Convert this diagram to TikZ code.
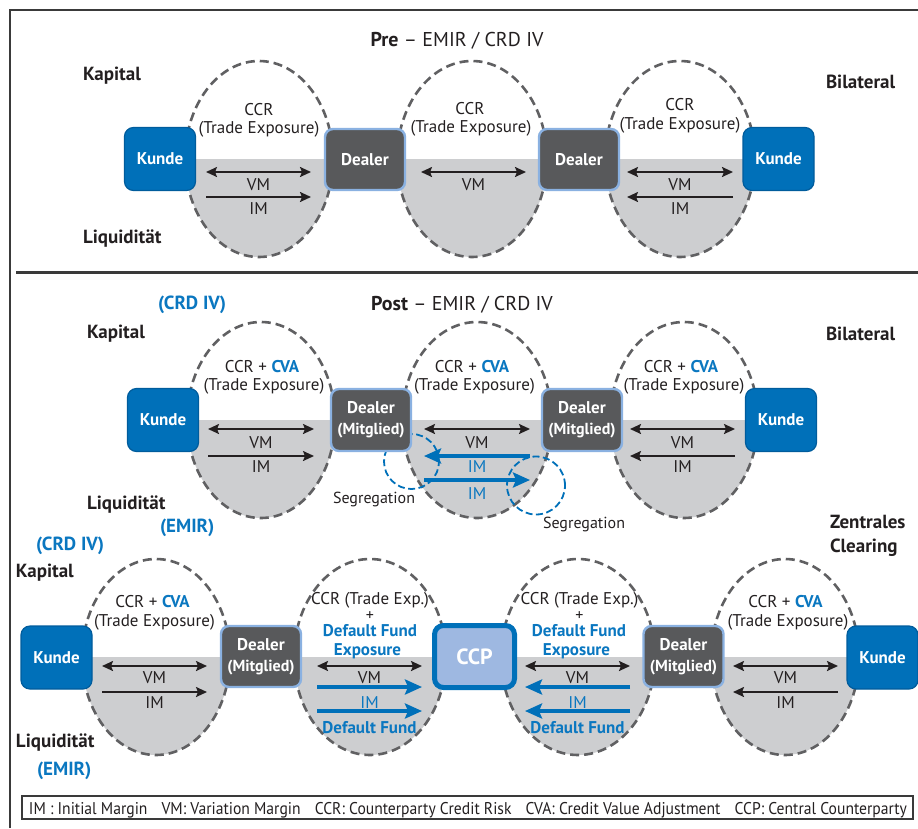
\documentclass[tikz,border=0pt]{standalone}
\usepackage{fontspec}
\usepackage{graphicx}
\setmainfont{PT Sans}
\usetikzlibrary{arrows.meta}

\definecolor{ink}{HTML}{231F20}
\definecolor{kblue}{HTML}{0070B9}
\definecolor{kedge}{HTML}{005C9C}
\definecolor{lblue}{HTML}{0A77C0}
\definecolor{dealerfill}{HTML}{58595B}
\definecolor{dealeredge}{HTML}{8AB1E1}
\definecolor{bandgray}{HTML}{CDCED0}
\definecolor{ovalgray}{HTML}{606062}
\definecolor{ccpfill}{HTML}{9EB8E1}
\definecolor{framegray}{HTML}{3A3A3A}

\newcommand\fsz[1]{\fontsize{#1}{#1}\selectfont}
\newcommand\cvatxt{{\color{lblue}\bfseries CVA}}
\newcommand\mitglied{{\fontsize{16}{21}\selectfont(Mitglied)}}

\begin{document}
\begin{tikzpicture}[x=1pt,y=-1pt,
  every node/.style={inner sep=0pt, outer sep=0pt, text=ink},
  lab/.style={anchor=base, font=\fsz{17}},
  blab/.style={anchor=base, font=\fsz{17}\bfseries, text=lblue},
  bim/.style={anchor=base, font=\fsz{17}, text=lblue},
  plus/.style={anchor=base, font=\fsz{16}},
  side/.style={anchor=base west, font=\fsz{19}\bfseries},
  sideb/.style={anchor=base west, font=\fsz{19}\bfseries, text=lblue},
  headline/.style={anchor=base, font=\fsz{20}},
  seglab/.style={anchor=base, font=\fsz{16}},
  kunde/.style={draw=kedge, fill=kblue, line width=1.2pt, rounded corners=9pt,
    minimum width=71pt, minimum height=63pt, text=white, font=\fsz{17}\bfseries},
  dealer/.style={draw=dealeredge, fill=dealerfill, line width=2.4pt, rounded corners=8pt,
    minimum width=80pt, minimum height=61pt, text=white,
    font=\fontsize{17}{21}\selectfont\bfseries, align=center},
  ccpbox/.style={draw=kblue, fill=ccpfill, line width=5pt, rounded corners=9pt,
    minimum width=80pt, minimum height=62pt, text=white, font=\fsz{22}\bfseries},
  oval/.style={draw=ovalgray, line width=2.6pt, dash pattern=on 9pt off 5pt},
  seg/.style={draw=kblue, line width=1.8pt, dash pattern=on 7pt off 3.5pt},
  flow/.style={draw=ink, line width=2pt, -{Stealth[length=11pt,width=10pt,inset=2pt]}},
  flowboth/.style={draw=ink, line width=2pt,
    {Stealth[length=11pt,width=10pt,inset=2pt]}-{Stealth[length=11pt,width=10pt,inset=2pt]}},
  bflow/.style={draw=kblue, line width=3.6pt, -{Stealth[length=17pt,width=15pt,inset=3pt]}},
]
\useasboundingbox (0,0) rectangle (918,828);

% outer frame and section divider
\draw[framegray, line width=1.4pt] (10,828) -- (10,10) -- (918,10);
\draw[framegray, line width=3pt] (16,272.5) -- (918,272.5);

% liquidity halves of the exposure ovals
\foreach \cx/\cy/\rx in {259/159/74, 472/159/75, 680/159/75,
                         261/420/74, 477/420/75, 684/420/74,
                         156/657/74, 370/657/76, 578/657/77, 785/657/74}{
  \fill[bandgray] (\cx-\rx,\cy) arc[start angle=180, end angle=360,
      x radius=\rx*1pt, y radius=98pt] -- cycle;
}
% dashed exposure ovals
\foreach \cx/\cy/\rx in {259/159/74, 472/159/75, 680/159/75,
                         261/420/74, 477/420/75, 684/420/74,
                         156/657/74, 370/657/76, 578/657/77, 785/657/74}{
  \draw[oval] (\cx,\cy) ellipse[x radius=\rx*1pt, y radius=98pt];
}

% segregation rings
\draw[seg] (411.5,461.5) circle[radius=27.5pt];
\draw[seg] (536,485.5) circle[radius=29pt];

% ---------------- Pre - EMIR / CRD IV ----------------
\node[headline] (preT) at (457,46) {{\bfseries Pre} \textendash{} EMIR / CRD IV};
\node[side] (preKap) at (83,80) {Kapital};
\node[side] (preLiq) at (83,243) {Liquidität};
\node[side] (preBil) at (826,88) {Bilateral};

\coordinate (pA1) at (206,172); \coordinate (pA2) at (311,172);
\coordinate (pA3) at (206,197); \coordinate (pA4) at (311,197);
\coordinate (pB1) at (421,172); \coordinate (pB2) at (526,172);
\coordinate (pC1) at (627,172); \coordinate (pC2) at (733,172);
\coordinate (pC3) at (733,197); \coordinate (pC4) at (627,197);
\draw[flowboth] (pA1) -- (pA2);
\draw[flow] (pA3) -- (pA4);
\draw[flowboth] (pB1) -- (pB2);
\draw[flowboth] (pC1) -- (pC2);
\draw[flow] (pC3) -- (pC4);

\node[kunde] (k1) at (160,159) {Kunde};
\node[dealer] (d1) at (365,159.5) {Dealer};
\node[dealer] (d2) at (579,159.5) {Dealer};
\node[kunde] (k2) at (778.5,159) {Kunde};

\node[lab] (pA_ccr) at (259,115) {CCR};
\node[lab] (pA_te) at (259,133) {(Trade Exposure)};
\node[lab] (pA_vm) at (258.5,190) {VM};
\node[lab] (pA_im) at (258.5,214) {IM};
\node[lab] (pB_ccr) at (470,114) {CCR};
\node[lab] (pB_te) at (471,132) {(Trade Exposure)};
\node[lab] (pB_vm) at (473.5,190) {VM};
\node[lab] (pC_ccr) at (680,110) {CCR};
\node[lab] (pC_te) at (680,129) {(Trade Exposure)};
\node[lab] (pC_vm) at (680,190) {VM};
\node[lab] (pC_im) at (680,214) {IM};

% ---------------- Post - EMIR / CRD IV ----------------
\node[headline] (postT) at (462,310) {{\bfseries Post} \textendash{} EMIR / CRD IV};
\node[sideb] (postCrd) at (158,309) {(CRD IV)};
\node[side] (postKap) at (87,338) {Kapital};
\node[side] (postLiq) at (87,509) {Liquidität};
\node[sideb] (postEmir) at (160,532) {(EMIR)};
\node[side] (postBil) at (826,340) {Bilateral};

\coordinate (qA1) at (208,429); \coordinate (qA2) at (314,429);
\coordinate (qA3) at (208,456); \coordinate (qA4) at (314,456);
\coordinate (qB1) at (424,429); \coordinate (qB2) at (530,429);
\coordinate (qB3) at (530,456); \coordinate (qB4) at (424,456);
\coordinate (qB5) at (424,480); \coordinate (qB6) at (530,480);
\coordinate (qC1) at (630,429); \coordinate (qC2) at (735,429);
\coordinate (qC3) at (735,456); \coordinate (qC4) at (630,456);
\draw[flowboth] (qA1) -- (qA2);
\draw[flow] (qA3) -- (qA4);
\draw[flowboth] (qB1) -- (qB2);
\draw[bflow] (qB3) -- (qB4);
\draw[bflow] (qB5) -- (qB6);
\draw[flowboth] (qC1) -- (qC2);
\draw[flow] (qC3) -- (qC4);

\node[kunde] (k3) at (163,420) {Kunde};
\node[dealer, minimum height=62pt] (d3) at (371,420) {Dealer\\\mitglied};
\node[dealer, minimum height=62pt] (d4) at (582,420) {Dealer\\\mitglied};
\node[kunde] (k4) at (781,420) {Kunde};

\node[lab] (qA_ccr) at (262,372) {CCR + \cvatxt};
\node[lab] (qA_te) at (264,390) {(Trade Exposure)};
\node[lab] (qA_vm) at (261,448) {VM};
\node[lab] (qA_im) at (261,472) {IM};
\node[lab] (qB_ccr) at (472,372) {CCR + \cvatxt};
\node[lab] (qB_te) at (474.5,390) {(Trade Exposure)};
\node[lab] (qB_vm) at (477,448) {VM};
\node[bim] (qB_im1) at (477,472) {IM};
\node[bim] (qB_im2) at (477,499) {IM};
\node[lab] (qC_ccr) at (681,372) {CCR + \cvatxt};
\node[lab] (qC_te) at (684,390) {(Trade Exposure)};
\node[lab] (qC_vm) at (682.5,448) {VM};
\node[lab] (qC_im) at (682.5,472) {IM};
\node[seglab] (seg1) at (374,503) {Segregation};
\node[seglab] (seg2) at (584,528) {Segregation};

% ---------------- Zentrales Clearing ----------------
\node[side] (zcA) at (830,528) {Zentrales};
\node[side] (zcB) at (830,552) {Clearing};
\node[sideb] (ccCrd) at (36,550) {(CRD IV)};
\node[side] (ccKap) at (16,577) {Kapital};
\node[side] (ccLiq) at (16,747) {Liquidität};
\node[sideb] (ccEmir) at (37,775) {(EMIR)};

\coordinate (rA1) at (102,666); \coordinate (rA2) at (207,666);
\coordinate (rA3) at (102,692); \coordinate (rA4) at (207,692);
\coordinate (rB1) at (317,666); \coordinate (rB2) at (422,666);
\coordinate (rB3) at (317,687); \coordinate (rB4) at (422,687);
\coordinate (rB5) at (317,711); \coordinate (rB6) at (422,711);
\coordinate (rC1) at (525,666); \coordinate (rC2) at (630,666);
\coordinate (rC3) at (630,687); \coordinate (rC4) at (525,687);
\coordinate (rC5) at (630,711); \coordinate (rC6) at (525,711);
\coordinate (rD1) at (733,666); \coordinate (rD2) at (838,666);
\coordinate (rD3) at (838,692); \coordinate (rD4) at (733,692);
\draw[flowboth] (rA1) -- (rA2);
\draw[flow] (rA3) -- (rA4);
\draw[flowboth] (rB1) -- (rB2);
\draw[bflow] (rB3) -- (rB4);
\draw[bflow] (rB5) -- (rB6);
\draw[flowboth] (rC1) -- (rC2);
\draw[bflow] (rC3) -- (rC4);
\draw[bflow] (rC5) -- (rC6);
\draw[flowboth] (rD1) -- (rD2);
\draw[flow] (rD3) -- (rD4);

\node[kunde] (k5) at (56.5,657.5) {Kunde};
\node[dealer] (d5) at (261,656.5) {Dealer\\\mitglied};
\node[ccpbox] (ccp) at (474.5,656.5) {CCP};
\node[dealer] (d6) at (683.5,656.5) {Dealer\\\mitglied};
\node[kunde] (k6) at (882.5,657.5) {Kunde};

\node[lab] (rA_ccr) at (152.5,607) {CCR + \cvatxt};
\node[lab] (rA_te) at (154.5,626) {(Trade Exposure)};
\node[lab] (rA_vm) at (154.5,683) {VM};
\node[lab] (rA_im) at (154.5,708) {IM};

\node[lab] (rB_ccr) at (370,604) {CCR (Trade Exp.)};
\node[plus] (rB_plus) at (370,620) {+};
\node[blab] (rB_df) at (370,636) {Default Fund};
\node[blab] (rB_ex) at (367.5,655) {Exposure};
\node[lab] (rB_vm) at (369.5,683) {VM};
\node[bim] (rB_im) at (369.5,708) {IM};
\node[blab] (rB_df2) at (369.5,733) {Default Fund};

\node[lab] (rC_ccr) at (579.5,604) {CCR (Trade Exp.)};
\node[plus] (rC_plus) at (579.5,620) {+};
\node[blab] (rC_df) at (579,636) {Default Fund};
\node[blab] (rC_ex) at (576.5,655) {Exposure};
\node[lab] (rC_vm) at (577.5,683) {VM};
\node[bim] (rC_im) at (577.5,708) {IM};
\node[blab] (rC_df2) at (577.5,733) {Default Fund};

\node[lab] (rD_ccr) at (785.5,607) {CCR + \cvatxt};
\node[lab] (rD_te) at (788,626) {(Trade Exposure)};
\node[lab] (rD_vm) at (785.5,683) {VM};
\node[lab] (rD_im) at (785.5,708) {IM};

% ---------------- abbreviations ----------------
\draw[framegray, line width=1.2pt] (22,796) rectangle (913,819);
\node[anchor=base] (legend) at (468,814) {\resizebox{878pt}{\height}{\fsz{17}IM : Initial Margin\hspace{0.9em}VM: Variation Margin\hspace{0.9em}CCR: Counterparty Credit Risk\hspace{0.9em}CVA: Credit Value Adjustment\hspace{0.9em}CCP: Central Counterparty}};

\end{tikzpicture}
\end{document}
